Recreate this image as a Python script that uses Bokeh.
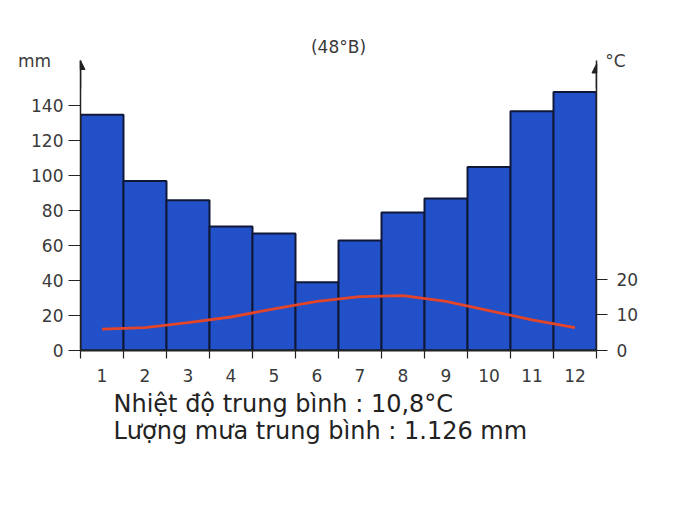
from bokeh.plotting import figure
from bokeh.models import (Range1d, LinearAxis, FixedTicker, Arrow,
                          NormalHead, ColumnDataSource, Title)
from bokeh.embed import file_html
from bokeh.resources import INLINE

months = [1, 2, 3, 4, 5, 6, 7, 8, 9, 10, 11, 12]
month_labels = [str(m) for m in months]
rain_mm = [135, 97, 86, 71, 67, 39, 63, 79, 87, 105, 137, 148]
temp_c = [6.0, 6.4, 7.8, 9.4, 11.7, 13.8, 15.1, 15.4, 13.8, 11.2, 8.6, 6.4]
mm_ticks = [0, 20, 40, 60, 80, 100, 120, 140]
c_ticks = [0, 10, 20]
title_text = "(48°B)"
line1 = "Nhiệt độ trung bình : 10,8°C"
line2 = "Lượng mưa trung bình : 1.126  mm"

FONT = "DejaVu Sans"
TXT = "#3a3a3a"
AX = "#222222"

src = ColumnDataSource(dict(x=months, rain=rain_mm, temp=temp_c))

p = figure(width=690, height=515, x_range=Range1d(0.5, 12.5),
           y_range=Range1d(0, 166), output_backend="svg",
           toolbar_location=None, min_border_left=80, min_border_right=94,
           min_border_top=60, min_border_bottom=165,
           x_axis_location=None, y_axis_location=None, title=None)
p.outline_line_color = None
p.xgrid.visible = False
p.ygrid.visible = False
p.background_fill_color = "white"
p.border_fill_color = "white"
p.extra_y_ranges = {"t": Range1d(0, 166 / 2.04)}

p.vbar(x="x", top="rain", bottom=0, width=1.0, source=src,
       fill_color="#2150C8", line_color="#101838", line_width=2)
p.line(x="x", y="temp", source=src, y_range_name="t",
       line_color="#E2452A", line_width=2.8)

# left axis (mm)
yl = LinearAxis(ticker=FixedTicker(ticks=mm_ticks), major_tick_out=12,
                major_tick_in=0, minor_tick_line_color=None,
                axis_line_color=AX, axis_line_width=1.5,
                major_tick_line_color=AX, major_tick_line_width=1.2,
                major_label_text_font=FONT, major_label_text_font_size="17px",
                major_label_text_color=TXT, major_label_standoff=5,
                axis_label="mm", axis_label_orientation="horizontal",
                axis_label_align="end", axis_label_standoff=-23,
                axis_label_text_font=FONT, axis_label_text_font_size="17px",
                axis_label_text_font_style="normal",
                axis_label_text_color=TXT)
p.add_layout(yl, "left")

# right axis (°C)
yr = LinearAxis(y_range_name="t", ticker=FixedTicker(ticks=c_ticks),
                major_tick_out=11, major_tick_in=0, minor_tick_line_color=None,
                axis_line_color=AX, axis_line_width=1.5,
                major_tick_line_color=AX, major_tick_line_width=1.2,
                major_label_text_font=FONT, major_label_text_font_size="17px",
                major_label_text_color=TXT, major_label_standoff=9,
                axis_label="°C", axis_label_orientation="horizontal",
                axis_label_align="end", axis_label_standoff=-36,
                axis_label_text_font=FONT, axis_label_text_font_size="17px",
                axis_label_text_font_style="normal",
                axis_label_text_color=TXT)
p.add_layout(yr, "right")

# bottom axis: labels at month centers, ticks at bar boundaries
bounds = [m - 0.5 for m in months] + [months[-1] + 0.5]
xa = LinearAxis(ticker=FixedTicker(ticks=months, minor_ticks=bounds),
                major_label_overrides={m: l for m, l in zip(months, month_labels)},
                major_tick_line_color=None, minor_tick_out=8, minor_tick_in=0,
                minor_tick_line_color=AX, minor_tick_line_width=1.2,
                axis_line_color=AX, axis_line_width=2,
                major_label_text_font=FONT, major_label_text_font_size="17px",
                major_label_text_color=TXT, major_label_standoff=10)
p.add_layout(xa, "below")

# arrows on the axes
for xpos, ytop in [(0.5, 166), (12.5, 164)]:
    p.add_layout(Arrow(end=NormalHead(size=9, fill_color=AX, line_color=AX),
                       x_start=xpos, y_start=150, x_end=xpos, y_end=ytop,
                       line_color=AX, line_width=1.5))

# texts outside the frame
p.add_layout(Title(text=title_text, align="center", offset=2, standoff=8,
                   text_font=FONT, text_font_size="17px",
                   text_font_style="normal", text_color=TXT), "above")
p.add_layout(Title(text=line1, align="left", offset=33, standoff=7,
                   text_font=FONT, text_font_size="24px",
                   text_font_style="normal", text_color="#222222"), "below")
p.add_layout(Title(text=line2, align="left", offset=33, standoff=-14,
                   text_font=FONT, text_font_size="24px",
                   text_font_style="normal", text_color="#222222"), "below")

open("out.html", "w").write(file_html(p, INLINE))
